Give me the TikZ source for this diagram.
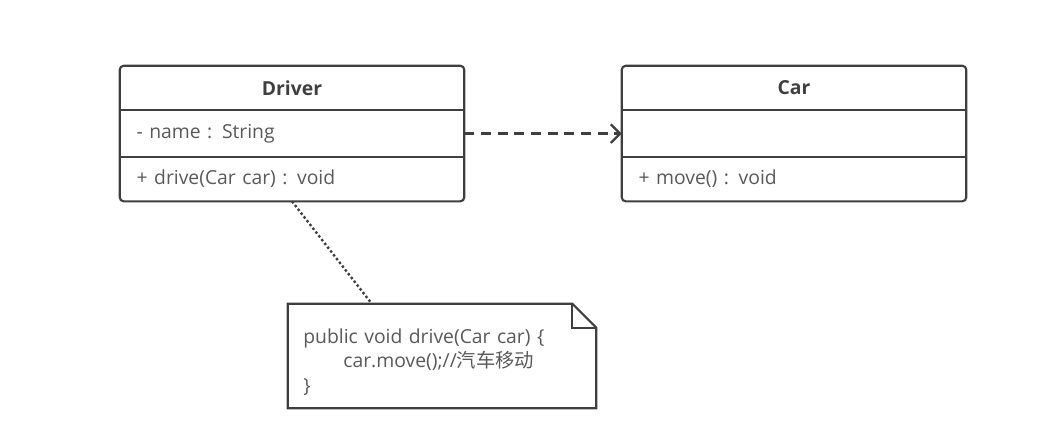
\documentclass[tikz,border=0pt]{standalone}
\usepackage{fontspec}
\setmainfont{Open Sans}
\newfontfamily\cjk{Noto Sans CJK SC}
\usetikzlibrary{positioning,arrows.meta}
\definecolor{linegray}{HTML}{3F3F3F}
\definecolor{textgray}{HTML}{595959}
\begin{document}
\begin{tikzpicture}[x=0.75pt,y=-0.75pt,
font=\fontsize{14.5}{17}\selectfont,
title/.style={
% The shape:
rectangle,
minimum width=258pt,
minimum height=33pt,
font=\fontsize{14.5}{17}\selectfont\bfseries,
text=linegray
},
member/.style={
rectangle,
minimum height=34.5pt,
inner xsep=12.5pt,
text width=233pt,
align=left,
text=textgray
},
classbox/.style={draw=linegray,line width=1.6pt,rounded corners=3pt},
classline/.style={draw=linegray,line width=1.6pt},
dep/.style={draw=linegray,line width=1.7pt,dash pattern=on 7.5pt off 5pt,
-{Straight Barb[length=7pt,width=14pt,line width=1.7pt]}},
pin/.style={draw=linegray,line width=1.8pt,dash pattern=on 1.8pt off 1.8pt},
notebox/.style={draw=linegray,line width=1.6pt,line join=miter}
]
\useasboundingbox (0,0) rectangle (1053,447);

% Driver
\node (drvtitle) [title] at (292,88) {Driver};
\node (drvattr) [member,below=0pt of drvtitle] {- name : String};
\node (drvmeth) [member,below=0pt of drvattr,minimum height=33pt] {+ drive(Car car) : void};
\draw[classbox] (drvtitle.north west) rectangle (drvmeth.south east);
\draw[classline] (drvattr.north west) -- (drvattr.north east)
  (drvmeth.north west) -- (drvmeth.north east);

% Car
\node (cartitle) [title] at (794,88) {Car};
\node (carattr) [member,below=0pt of cartitle] {};
\node (carmeth) [member,below=0pt of carattr,minimum height=33pt] {+ move() : void};
\draw[classbox] (cartitle.north west) rectangle (carmeth.south east);
\draw[classline] (carattr.north west) -- (carattr.north east)
  (carmeth.north west) -- (carmeth.north east);

\draw[dep] (drvattr.east) -- (carattr.west);

% Note
\node (note) [member,minimum width=231pt,minimum height=78pt,text width=208pt,
  inner xsep=11.5pt,font=\fontsize{14.5}{18.5}\selectfont] at (442,356)
  {\rule{0pt}{20pt}public void drive(Car car) \{\\
   \hspace*{30pt}car.move();//{\cjk 汽车移动}\\
   \}};
\draw[notebox] (note.north west) -- ([xshift=-18pt]note.north east)
  -- ([yshift=-18pt]note.north east) -- (note.south east)
  -- (note.south west) -- cycle;
\draw[notebox] ([xshift=-18pt]note.north east) |- ([yshift=-18pt]note.north east);
\coordinate (notepin) at (372,304);
\draw[pin] (drvmeth.south) -- (notepin);
\end{tikzpicture}
\end{document}
